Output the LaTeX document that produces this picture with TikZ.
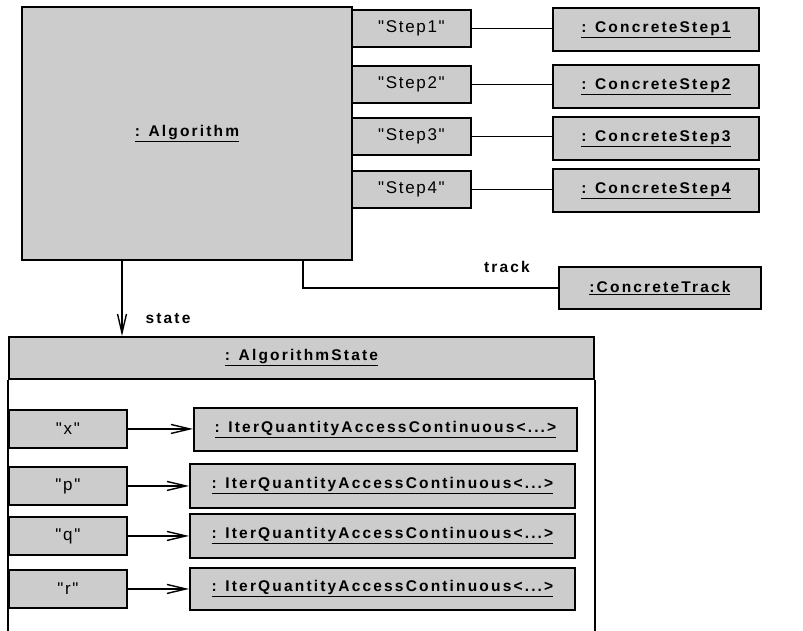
\documentclass[tikz,border=0pt]{standalone}
\usepackage{fontspec}
\setmainfont{Liberation Sans}
\newfontfamily\objfont{Liberation Sans}[LetterSpace=14]
\newfontfamily\keyfont{Liberation Sans}[LetterSpace=10]
\usetikzlibrary{arrows.meta}
\definecolor{boxgray}{HTML}{CCCCCC}
\newcommand{\objname}[1]{{\objfont\bfseries\fontsize{15.5}{18}\selectfont\underline{#1}}}
\newcommand{\keyname}[1]{{\keyfont\fontsize{17}{20}\selectfont #1}}
\newcommand{\rolename}[1]{{\objfont\bfseries\fontsize{15.5}{18}\selectfont #1}}
\tikzset{
  objbox/.style={draw, line width=1.9pt, fill=boxgray, inner sep=0pt, anchor=north west},
  link/.style={line width=1.4pt},
  navarrow/.style={line width=1.4pt, -{Straight Barb[length=19pt, width=9pt, line width=1.4pt]}},
}
\begin{document}
\begin{tikzpicture}[x=1pt, y=-1pt]
\useasboundingbox (0,0) rectangle (803,631);
\clip (0,0) rectangle (803,631);

% the algorithm object and its qualified step links
\node[objbox, minimum width=330pt, minimum height=253pt] (alg) at (21,6) {\objname{: Algorithm}};

\node[objbox, minimum width=119pt, minimum height=37pt] (s1) at (351,9)   {\keyname{"Step1"}};
\node[objbox, minimum width=119pt, minimum height=37pt] (s2) at (351,65)  {\keyname{"Step2"}};
\node[objbox, minimum width=119pt, minimum height=37pt] (s3) at (351,117) {\keyname{"Step3"}};
\node[objbox, minimum width=119pt, minimum height=37pt] (s4) at (351,170) {\keyname{"Step4"}};

\node[objbox, minimum width=206pt, minimum height=43pt] (cs1) at (552,7)   {\objname{: ConcreteStep1}};
\node[objbox, minimum width=206pt, minimum height=43pt] (cs2) at (552,64)  {\objname{: ConcreteStep2}};
\node[objbox, minimum width=206pt, minimum height=43pt] (cs3) at (552,116) {\objname{: ConcreteStep3}};
\node[objbox, minimum width=206pt, minimum height=43pt] (cs4) at (552,168) {\objname{: ConcreteStep4}};

\foreach \i in {1,...,4} {
  \draw[link] (s\i.east) -- (s\i.east -| cs\i.west);
}

% track link
\node[objbox, minimum width=202pt, minimum height=42pt] (trk) at (558,266) {\objname{:ConcreteTrack}};
\coordinate (trackfoot) at (303,259);
\draw[link] (trackfoot) |- (trk.west);
\node (tracklbl) at (507,267) {\rolename{track}};

% algorithm state object
\node[objbox, minimum width=585pt, minimum height=42pt] (hdr) at (8,336) {\objname{: AlgorithmState}};
\draw[line width=1.9pt] (hdr.south west) -- ++(0,300);
\draw[line width=1.9pt] (hdr.south east) -- ++(0,300);

\coordinate (statefoot) at (122,259);
\draw[navarrow] (statefoot) -- (statefoot |- hdr.north);
\node (statelbl) at (168,319) {\rolename{state}};

% qualified iteration quantities
\node[objbox, minimum width=118pt, minimum height=38pt] (kx) at (8,409) {\keyname{"x"}};
\node[objbox, minimum width=118pt, minimum height=38pt] (kp) at (8,466) {\keyname{"p"}};
\node[objbox, minimum width=118pt, minimum height=38pt] (kq) at (8,516) {\keyname{"q"}};
\node[objbox, minimum width=118pt, minimum height=38pt] (kr) at (8,569) {\keyname{"r"}};

\node[objbox, minimum width=383pt, minimum height=43pt] (ix) at (193,407) {\objname{: IterQuantityAccessContinuous<...>}};
\node[objbox, minimum width=385pt, minimum height=44pt] (ip) at (189,463) {\objname{: IterQuantityAccessContinuous<...>}};
\node[objbox, minimum width=385pt, minimum height=44pt] (iq) at (189,513) {\objname{: IterQuantityAccessContinuous<...>}};
\node[objbox, minimum width=385pt, minimum height=42pt] (ir) at (189,567) {\objname{: IterQuantityAccessContinuous<...>}};

\foreach \k in {x,p,q,r} {
  \draw[navarrow] (k\k.east) -- (k\k.east -| i\k.west);
}
\end{tikzpicture}
\end{document}
